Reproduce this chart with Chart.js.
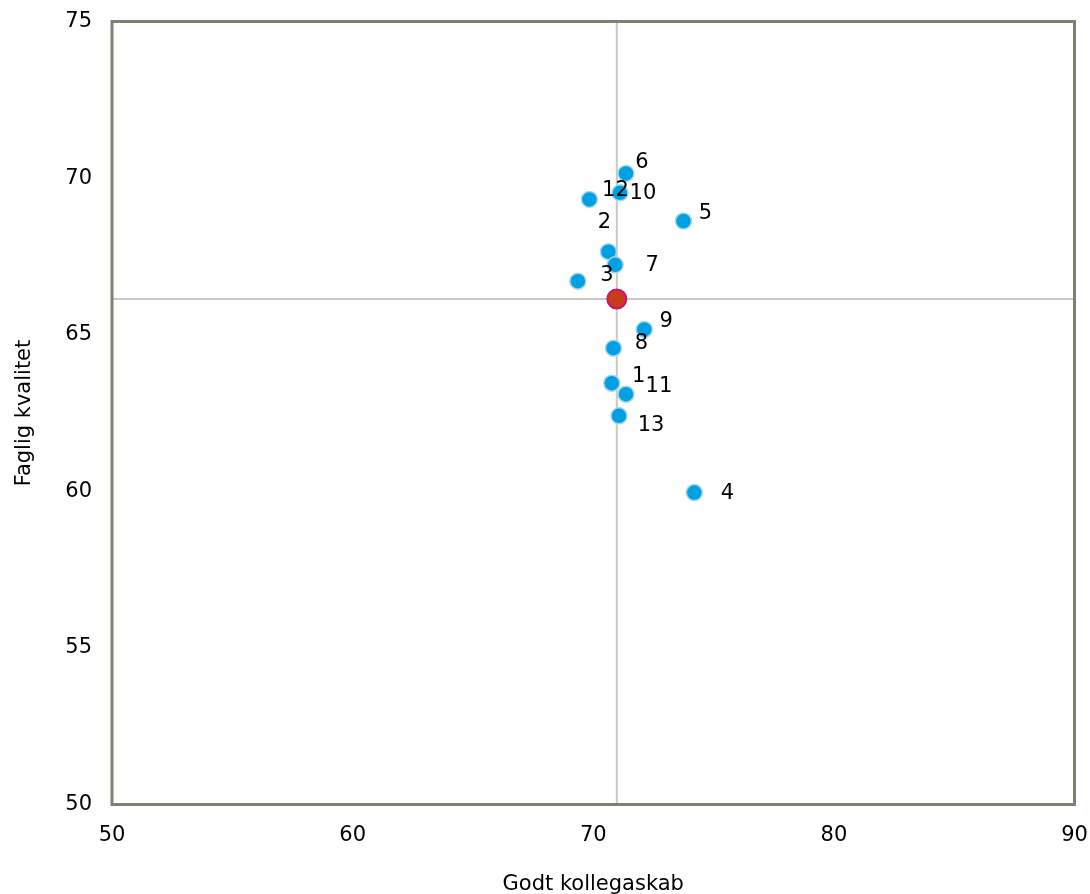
<!DOCTYPE html>
<html>
<head>
<meta charset="utf-8">
<script src="https://cdn.jsdelivr.net/npm/chart.js@4"></script>
<style>
    html, body { margin: 0; padding: 0; background: #fff; }
    #wrap { width: 1090px; height: 894px; }
</style>
</head>
<body>
<div id="wrap"><canvas id="scatterChart"></canvas></div>
<script>
// Data
var pointLabels = ["1", "2", "3", "4", "5", "6", "7", "8", "9", "10", "11", "12", "13"];
var kollegaskab = [70.77, 70.63, 69.36, 74.20, 73.75, 71.36, 70.91, 70.84, 72.12, 71.11, 71.36, 69.84, 71.07];
var kvalitet = [63.45, 67.65, 66.71, 59.96, 68.63, 70.15, 67.23, 64.57, 65.17, 69.53, 63.10, 69.32, 62.41];
var averageX = 70.98;
var averageY = 66.14;
var xTicks = [50, 60, 70, 80, 90];
var yTicks = [50, 55, 60, 65, 70, 75];

var font = "'DejaVu Sans', Verdana, sans-serif";

// label offsets next to each point (px)
var labelOffsets = [[27, -7], [-4, -29], [29, -6], [33, 1], [22, -7], [16, -11], [37, 1],
    [28, -5], [22, -8], [23, 1], [33, -8], [26, -9], [32, 10]];

var points = kollegaskab.map(function (x, i) { return { x: x, y: kvalitet[i] }; });

var frame = {
    id: "frame",
    afterDraw: function (chart) {
        var a = chart.chartArea, ctx = chart.ctx;
        ctx.save();
        ctx.strokeStyle = "#808070";
        ctx.lineWidth = 3;
        ctx.strokeRect(a.left, a.top, a.right - a.left, a.bottom - a.top);
        ctx.restore();
    }
};

var numberLabels = {
    id: "numberLabels",
    afterDatasetsDraw: function (chart) {
        var meta = chart.getDatasetMeta(2), ctx = chart.ctx;
        ctx.save();
        ctx.font = "21px " + font;
        ctx.fillStyle = "#000";
        ctx.textAlign = "center";
        ctx.textBaseline = "middle";
        meta.data.forEach(function (el, i) {
            ctx.fillText(pointLabels[i], el.x + labelOffsets[i][0], el.y + labelOffsets[i][1]);
        });
        ctx.restore();
    }
};

new Chart(document.getElementById("scatterChart"), {
    type: "scatter",
    data: {
        datasets: [
            { type: "line", data: [{ x: 50, y: averageY }, { x: 90, y: averageY }], borderColor: "#cbc9c0", borderWidth: 2, pointRadius: 0, fill: false, order: 3 },
            { type: "line", data: [{ x: averageX, y: 50 }, { x: averageX, y: 75 }], borderColor: "#cbc9c0", borderWidth: 2, pointRadius: 0, fill: false, order: 3 },
            { label: "Skoler", data: points, backgroundColor: "rgb(0,160,226)", borderColor: "rgb(165,215,240)", borderWidth: 1.5, pointRadius: 8, order: 2 },
            { label: "Gennemsnit", data: [{ x: averageX, y: averageY }], backgroundColor: "rgb(200,60,30)", borderColor: "rgb(200,20,110)", borderWidth: 2, pointRadius: 9.5, order: 1 }
        ]
    },
    options: {
        responsive: true,
        maintainAspectRatio: false,
        animation: false,
        layout: { padding: { left: 0, top: 21.5, right: 15.5, bottom: 0 } },
        plugins: { legend: { display: false }, tooltip: { enabled: false } },
        scales: {
            x: {
                type: "linear", min: 50, max: 90,
                afterBuildTicks: function (s) { s.ticks = xTicks.map(function (v) { return { value: v }; }); },
                afterFit: function (s) { s.height = 89.5; s.paddingLeft = 0; s.paddingRight = 0; },
                grid: { display: false },
                border: { display: false },
                ticks: { color: "#000", font: { family: font, size: 21 }, padding: 10, maxRotation: 0 },
                title: { display: true, text: "Godt kollegaskab", color: "#000", font: { family: font, size: 21 }, padding: { top: 14, bottom: -3 } }
            },
            y: {
                type: "linear", min: 50, max: 75,
                afterBuildTicks: function (s) { s.ticks = yTicks.map(function (v) { return { value: v }; }); },
                afterFit: function (s) { s.width = 112; s.paddingTop = 0; s.paddingBottom = 0; },
                grid: { display: false },
                border: { display: false },
                ticks: { color: "#000", font: { family: font, size: 21 }, padding: 12 },
                title: { display: true, text: "Faglig kvalitet", color: "#000", font: { family: font, size: 21 }, padding: { top: 12, bottom: 0 } }
            }
        }
    },
    plugins: [frame, numberLabels]
});
</script>
</body>
</html>
